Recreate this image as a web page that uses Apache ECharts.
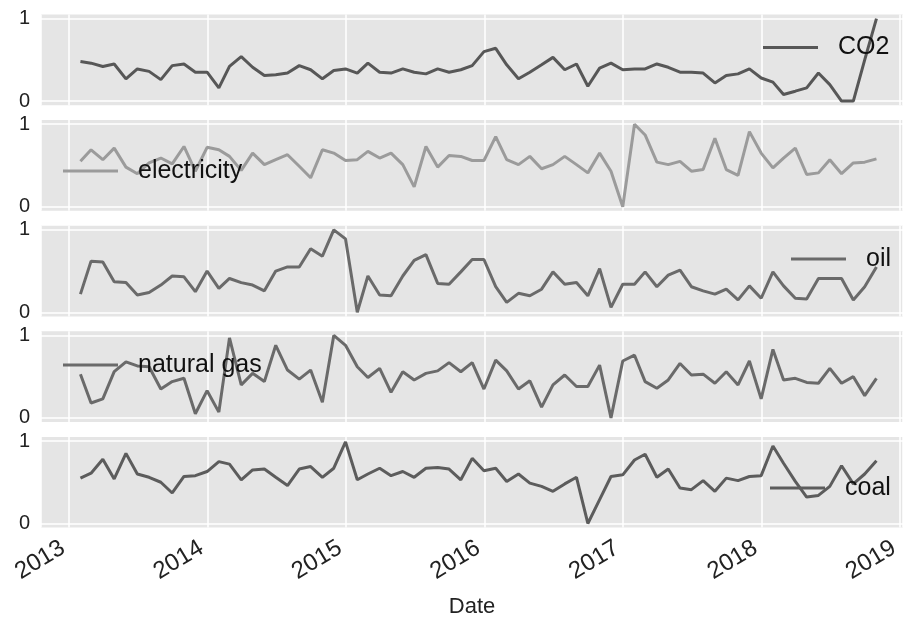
<!DOCTYPE html>
<html>
<head>
<meta charset="utf-8">
<script src="https://cdn.jsdelivr.net/npm/echarts@6/dist/echarts.min.js"></script>
<style>
html,body{margin:0;padding:0;background:#fff;}
#chart{width:905px;height:621px;}
</style>
</head>
<body>
<div id="chart"></div>
<script>
// ---- data ----
const dates = [
'2013-01-31','2013-02-28','2013-03-31','2013-04-30','2013-05-31','2013-06-30','2013-07-31','2013-08-31','2013-09-30','2013-10-31','2013-11-30','2013-12-31',
'2014-01-31','2014-02-28','2014-03-31','2014-04-30','2014-05-31','2014-06-30','2014-07-31','2014-08-31','2014-09-30','2014-10-31','2014-11-30','2014-12-31',
'2015-01-31','2015-02-28','2015-03-31','2015-04-30','2015-05-31','2015-06-30','2015-07-31','2015-08-31','2015-09-30','2015-10-31','2015-11-30','2015-12-31',
'2016-01-31','2016-02-29','2016-03-31','2016-04-30','2016-05-31','2016-06-30','2016-07-31','2016-08-31','2016-09-30','2016-10-31','2016-11-30','2016-12-31',
'2017-01-31','2017-02-28','2017-03-31','2017-04-30','2017-05-31','2017-06-30','2017-07-31','2017-08-31','2017-09-30','2017-10-31','2017-11-30','2017-12-31',
'2018-01-31','2018-02-28','2018-03-31','2018-04-30','2018-05-31','2018-06-30','2018-07-31','2018-08-31','2018-09-30','2018-10-31'
];
const seriesNames = ['CO2','electricity','oil','natural gas','coal'];
const co2 = [0.48,0.46,0.42,0.45,0.27,0.39,0.36,0.26,0.43,0.45,0.35,0.35,0.16,0.42,0.54,0.41,0.31,0.32,0.34,0.43,0.38,0.27,0.37,0.39,0.34,0.46,0.35,0.34,0.39,0.35,0.33,0.39,0.35,0.38,0.43,0.60,0.64,0.44,0.27,0.35,0.44,0.53,0.38,0.45,0.18,0.40,0.46,0.38,0.39,0.39,0.45,0.41,0.35,0.35,0.34,0.22,0.31,0.33,0.39,0.28,0.23,0.08,0.12,0.16,0.34,0.20,0.00,0.00,0.50,1.00];
const electricity = [0.55,0.69,0.57,0.71,0.48,0.40,0.53,0.59,0.52,0.73,0.43,0.72,0.69,0.61,0.44,0.65,0.51,0.57,0.63,0.49,0.35,0.69,0.65,0.56,0.57,0.67,0.59,0.65,0.51,0.24,0.73,0.48,0.62,0.61,0.56,0.56,0.85,0.57,0.51,0.61,0.46,0.51,0.61,0.51,0.41,0.65,0.43,0.00,1.00,0.87,0.54,0.51,0.55,0.43,0.45,0.83,0.45,0.38,0.91,0.65,0.47,0.59,0.71,0.39,0.41,0.57,0.40,0.53,0.54,0.58];
const oil = [0.22,0.62,0.61,0.37,0.36,0.21,0.24,0.33,0.44,0.43,0.25,0.50,0.29,0.41,0.36,0.33,0.26,0.50,0.55,0.55,0.77,0.68,1.00,0.89,0.00,0.44,0.21,0.20,0.44,0.63,0.70,0.35,0.34,0.49,0.64,0.64,0.31,0.12,0.23,0.20,0.28,0.49,0.34,0.36,0.20,0.53,0.06,0.34,0.34,0.49,0.31,0.45,0.51,0.31,0.26,0.22,0.28,0.15,0.32,0.17,0.49,0.32,0.17,0.16,0.41,0.41,0.41,0.15,0.31,0.55];
const naturalGas = [0.53,0.18,0.23,0.56,0.68,0.63,0.62,0.35,0.44,0.48,0.05,0.33,0.07,0.97,0.40,0.54,0.44,0.88,0.58,0.47,0.58,0.19,1.00,0.88,0.62,0.49,0.60,0.31,0.56,0.46,0.54,0.57,0.67,0.56,0.67,0.35,0.70,0.57,0.35,0.45,0.13,0.40,0.52,0.38,0.38,0.64,0.00,0.69,0.76,0.44,0.36,0.46,0.66,0.52,0.53,0.42,0.56,0.40,0.69,0.23,0.83,0.46,0.48,0.43,0.42,0.60,0.42,0.50,0.27,0.48];
const coal = [0.55,0.61,0.78,0.54,0.85,0.60,0.56,0.50,0.37,0.57,0.58,0.63,0.75,0.72,0.53,0.65,0.66,0.56,0.46,0.66,0.69,0.56,0.67,0.99,0.53,0.60,0.67,0.58,0.63,0.56,0.67,0.68,0.66,0.53,0.79,0.64,0.67,0.51,0.60,0.49,0.45,0.39,0.48,0.56,0.00,0.29,0.57,0.59,0.77,0.84,0.56,0.66,0.43,0.41,0.52,0.39,0.55,0.52,0.57,0.58,0.94,0.73,0.51,0.32,0.34,0.45,0.70,0.48,0.60,0.76];
const yTickLabels = ['0','1'];
const xTickLabels = ['2013','2014','2015','2016','2017','2018','2019'];

// ---- styles / layout ----
const allValues = [co2, electricity, oil, naturalGas, coal];
const lineColors = ['#575757','#9b9b9b','#6a6a6a','#6a6a6a','#5c5c5c'];
const panelTop0 = 14.5, panelPitch = 105.6, panelHeight = 90.7;
const gridLeft = 41, gridRight = 2;
const legendPos = [
  {left: 763, cy: 47.5},
  {left: 63, cy: 171},
  {left: 791, cy: 259},
  {left: 63, cy: 365},
  {left: 770, cy: 488}
];
const FONT = '"Liberation Sans", Arial, sans-serif';

const grids = [], xAxes = [], yAxes = [], series = [], legends = [];
allValues.forEach((vals, k) => {
  const isLast = k === allValues.length - 1;
  grids.push({
    left: gridLeft, right: gridRight,
    top: panelTop0 + k * panelPitch, height: panelHeight,
    show: true, backgroundColor: '#e5e5e5', borderWidth: 0
  });
  xAxes.push({
    type: 'time', gridIndex: k,
    min: '2012-10-19', max: '2019-01-09',
    minInterval: 365 * 24 * 3600 * 1000,
    maxInterval: 366 * 24 * 3600 * 1000,
    axisLine: {show: false}, axisTick: {show: false},
    splitLine: {show: true, lineStyle: {color: '#ffffff', width: 1.5}},
    axisLabel: {
      show: isLast, rotate: 31, fontSize: 24, color: '#222', fontFamily: FONT, margin: 15,
      padding: [0, 7, 0, 0],
      formatter: (v) => { const y = String(new Date(v).getFullYear()); return xTickLabels.includes(y) ? y : ''; },
      showMinLabel: false, showMaxLabel: false
    },
    name: isLast ? 'Date' : '', nameLocation: 'middle', nameGap: 68,
    nameTextStyle: {fontSize: 22, color: '#222', fontFamily: FONT}
  });
  yAxes.push({
    type: 'value', gridIndex: k, min: -0.05, max: 1.05,
    axisLine: {show: false},
    axisTick: {show: false, customValues: [0, 1]},
    axisLabel: {customValues: [0, 1], fontSize: 20, color: '#222', fontFamily: FONT, margin: 11,
      formatter: (v) => yTickLabels[Math.round(v)]},
    splitLine: {show: true, lineStyle: {color: '#ffffff', width: 1.5}}
  });
  series.push({
    name: seriesNames[k], type: 'line', xAxisIndex: k, yAxisIndex: k,
    data: dates.map((d, i) => [d, vals[i]]),
    showSymbol: false, symbol: 'none',
    color: lineColors[k],
    lineStyle: {width: 3, color: lineColors[k]},
    z: 2
  });
  legends.push({
    data: [seriesNames[k]],
    left: legendPos[k].left, top: legendPos[k].cy - 14,
    padding: 0, icon: 'rect', itemWidth: 55, itemHeight: 3,
    textStyle: {fontSize: 25, color: '#111', fontFamily: FONT, padding: [0, 0, 0, 15], lineHeight: 28},
    itemStyle: {color: lineColors[k]},
    selectedMode: false
  });
});

const chart = echarts.init(document.getElementById('chart'), null, {renderer: 'canvas'});
chart.setOption({
  animation: false,
  backgroundColor: '#ffffff',
  grid: grids, xAxis: xAxes, yAxis: yAxes, series: series, legend: legends
});
</script>
</body>
</html>
